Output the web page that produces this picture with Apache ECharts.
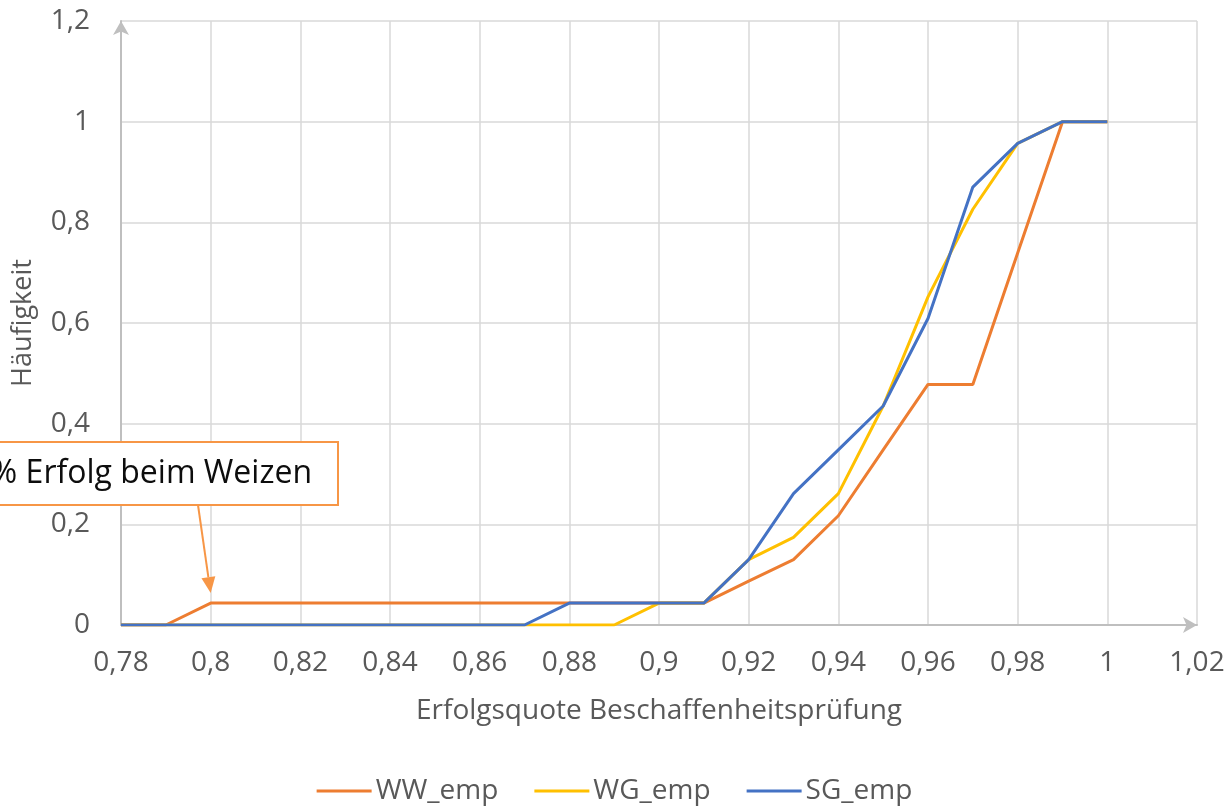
<!DOCTYPE html>
<html>
<head>
<meta charset="utf-8">
<script src="https://cdn.jsdelivr.net/npm/echarts@6/dist/echarts.min.js"></script>
<style>
  html, body { margin: 0; padding: 0; background: #fff; }
  #chart { width: 1229px; height: 808px; }
</style>
</head>
<body>
<div id="chart"></div>
<script>
  // Erfolgsquote (x) und kumulierte Häufigkeit je Sorte
  var quote = [0.78, 0.79, 0.80, 0.81, 0.82, 0.83, 0.84, 0.85, 0.86, 0.87, 0.88, 0.89,
               0.90, 0.91, 0.92, 0.93, 0.94, 0.95, 0.96, 0.97, 0.98, 0.99, 1.00];
  var wwEmp = [0, 0, 0.0435, 0.0435, 0.0435, 0.0435, 0.0435, 0.0435, 0.0435, 0.0435, 0.0435, 0.0435,
               0.0435, 0.0435, 0.087, 0.130, 0.217, 0.348, 0.478, 0.478, 0.739, 1, 1];
  var wgEmp = [0, 0, 0, 0, 0, 0, 0, 0, 0, 0, 0, 0,
               0.0435, 0.0435, 0.130, 0.174, 0.261, 0.435, 0.652, 0.826, 0.957, 1, 1];
  var sgEmp = [0, 0, 0, 0, 0, 0, 0, 0, 0, 0, 0.0435, 0.0435,
               0.0435, 0.0435, 0.130, 0.261, 0.348, 0.435, 0.609, 0.870, 0.957, 1, 1];
  var seriesNames = ['WW_emp', 'WG_emp', 'SG_emp'];
  var annotationText = '% Erfolg beim Weizen';

  var font = '"Open Sans", Lato, sans-serif';
  var fmt = function (v) {
    return String(Math.round(v * 100) / 100).replace('.', ',');
  };
  var pairs = function (ys) {
    return quote.map(function (x, i) { return [x, ys[i]]; });
  };

  var chart = echarts.init(document.getElementById('chart'));
  var lineSeries = function (name, ys, color) {
    return {
      name: name,
      type: 'line',
      data: pairs(ys),
      showSymbol: false,
      symbol: 'none',
      lineStyle: { color: color, width: 3 },
      itemStyle: { color: color },
      animation: false
    };
  };

  chart.setOption({
    animation: false,
    grid: { left: 121, right: 32, top: 21, bottom: 183, containLabel: false },
    legend: {
      data: seriesNames,
      top: 777,
      left: 'center',
      padding: 0,
      icon: 'rect',
      itemWidth: 55,
      itemHeight: 3,
      itemGap: 36,
      textStyle: { fontFamily: font, fontSize: 28, color: '#595959', padding: [0, 0, 0, -1] }
    },
    xAxis: {
      type: 'value',
      min: 0.78,
      max: 1.02,
      interval: 0.02,
      name: 'Erfolgsquote Beschaffenheitsprüfung',
      nameLocation: 'middle',
      nameGap: 72,
      nameTextStyle: { fontFamily: font, fontSize: 28, color: '#595959' },
      axisLine: { lineStyle: { color: '#BFBFBF', width: 2 }, symbol: ['none', 'arrow'], symbolSize: [12, 14] },
      axisTick: { show: false },
      splitLine: { show: true, lineStyle: { color: '#D9D9D9', width: 1.5 } },
      axisLabel: { formatter: fmt, fontFamily: font, fontSize: 28, color: '#595959', margin: 24 }
    },
    yAxis: {
      type: 'value',
      min: 0,
      max: 1.2,
      interval: 0.2,
      name: 'Häufigkeit',
      nameLocation: 'middle',
      nameGap: 84,
      nameTextStyle: { fontFamily: font, fontSize: 27, color: '#595959' },
      axisLine: { show: true, lineStyle: { color: '#BFBFBF', width: 2 }, symbol: ['none', 'arrow'], symbolSize: [12, 14] },
      axisTick: { show: false },
      splitLine: { show: true, lineStyle: { color: '#D9D9D9', width: 1.5 } },
      axisLabel: { formatter: fmt, fontFamily: font, fontSize: 28, color: '#595959', margin: 31 }
    },
    series: [
      lineSeries(seriesNames[0], wwEmp, '#ED7D31'),
      lineSeries(seriesNames[1], wgEmp, '#FFC000'),
      lineSeries(seriesNames[2], sgEmp, '#4472C4')
    ]
  });

  // Annotation box with arrow pointing at the first WW step
  var tip = chart.convertToPixel({ gridIndex: 0 }, [quote[2], wwEmp[2]]);
  var tipX = tip[0], tipY = tip[1] - 10;
  var boxRight = 338, boxTop = 442, boxBottom = 505;
  var startX = 198;
  var ang = Math.atan2(tipY - boxBottom, tipX - startX);
  var headLen = 16, headHalf = 7;
  var bx = tipX - headLen * Math.cos(ang), by = tipY - headLen * Math.sin(ang);
  var px = -Math.sin(ang) * headHalf, py = Math.cos(ang) * headHalf;
  var annoColor = '#F79646';

  chart.setOption({
    graphic: [
      {
        type: 'line',
        shape: { x1: startX, y1: boxBottom, x2: bx, y2: by },
        style: { stroke: annoColor, lineWidth: 2 },
        z: 100
      },
      {
        type: 'polygon',
        shape: { points: [[tipX, tipY], [bx + px, by + py], [bx - px, by - py]] },
        style: { fill: annoColor },
        z: 100
      },
      {
        type: 'rect',
        shape: { x: -30, y: boxTop, width: boxRight + 30, height: boxBottom - boxTop },
        style: { fill: '#FFFFFF', stroke: annoColor, lineWidth: 2 },
        z: 100
      },
      {
        type: 'text',
        x: 312,
        y: (boxTop + boxBottom) / 2,
        style: {
          text: annotationText,
          fontFamily: font,
          fontSize: 32,
          fill: '#0D0D0D',
          align: 'right',
          verticalAlign: 'middle'
        },
        z: 101
      }
    ]
  });
</script>
</body>
</html>
